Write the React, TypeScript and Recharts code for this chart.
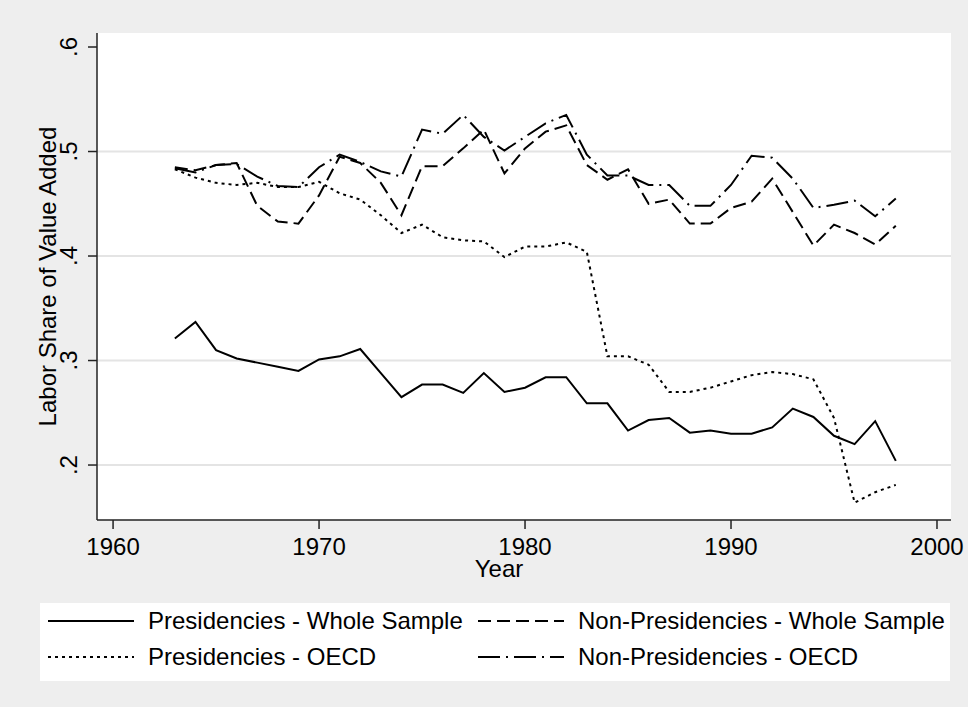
import { LineChart, Line, XAxis, YAxis, CartesianGrid, Legend } from 'recharts'

// Labor share of value added, 1963-1998
const years = [
  1963, 1964, 1965, 1966, 1967, 1968, 1969, 1970, 1971, 1972, 1973, 1974,
  1975, 1976, 1977, 1978, 1979, 1980, 1981, 1982, 1983, 1984, 1985, 1986,
  1987, 1988, 1989, 1990, 1991, 1992, 1993, 1994, 1995, 1996, 1997, 1998,
]

const presWhole = [
  0.321, 0.337, 0.31, 0.302, 0.298, 0.294, 0.29, 0.301, 0.304, 0.311, 0.288, 0.265,
  0.277, 0.277, 0.269, 0.288, 0.27, 0.274, 0.284, 0.284, 0.259, 0.259, 0.233, 0.243,
  0.245, 0.231, 0.233, 0.23, 0.23, 0.236, 0.254, 0.246, 0.228, 0.22, 0.242, 0.204,
]

const nonPresWhole = [
  0.485, 0.482, 0.487, 0.489, 0.448, 0.433, 0.431, 0.458, 0.495, 0.489, 0.47, 0.439,
  0.486, 0.486, 0.503, 0.521, 0.479, 0.503, 0.519, 0.525, 0.487, 0.473, 0.483, 0.45,
  0.454, 0.431, 0.431, 0.446, 0.452, 0.474, 0.442, 0.41, 0.43, 0.422, 0.411, 0.429,
]

const presOecd = [
  0.483, 0.475, 0.47, 0.468, 0.47, 0.466, 0.466, 0.471, 0.46, 0.454, 0.439, 0.422,
  0.43, 0.418, 0.415, 0.414, 0.399, 0.409, 0.409, 0.413, 0.404, 0.304, 0.304, 0.296,
  0.27, 0.27, 0.274, 0.28, 0.286, 0.289, 0.287, 0.282, 0.245, 0.164, 0.174, 0.181,
]

const nonPresOecd = [
  0.484, 0.48, 0.487, 0.488, 0.476, 0.467, 0.466, 0.485, 0.497, 0.49, 0.481, 0.476,
  0.521, 0.517, 0.535, 0.514, 0.501, 0.514, 0.527, 0.535, 0.497, 0.477, 0.477, 0.468,
  0.468, 0.448, 0.448, 0.468, 0.496, 0.494, 0.474, 0.446, 0.449, 0.453, 0.438, 0.455,
]

const xTicks = [1960, 1970, 1980, 1990, 2000]
const yTicks = [0.2, 0.3, 0.4, 0.5, 0.6]
const gridValues = [0.2, 0.3, 0.4, 0.5]

const SERIES = [
  { key: 'presWhole', name: 'Presidencies - Whole Sample', dash: undefined as string | undefined },
  { key: 'nonPresWhole', name: 'Non-Presidencies - Whole Sample', dash: '13 6' },
  { key: 'presOecd', name: 'Presidencies - OECD', dash: '3 4' },
  { key: 'nonPresOecd', name: 'Non-Presidencies - OECD', dash: '22 6 2 6' },
]

const data = years.map((year, i) => ({
  year,
  presWhole: presWhole[i],
  nonPresWhole: nonPresWhole[i],
  presOecd: presOecd[i],
  nonPresOecd: nonPresOecd[i],
}))

const FONT = '"Liberation Sans", Arial, sans-serif'
const INK = '#000'

const fmtY = (v: number) => '.' + Math.round(v * 10)

// y tick labels are rotated like Stata does it
const YTick = (props: any) => {
  const { x, y, payload } = props
  return (
    <text
      x={x}
      y={y}
      dy={-11}
      transform={`rotate(-90 ${x} ${y})`}
      textAnchor="middle"
      fontSize={24}
      fontFamily={FONT}
      fill={INK}
    >
      {fmtY(payload.value)}
    </text>
  )
}

const YTitle = (props: any) => {
  const vb = props.viewBox
  const x = vb.x + 39
  const y = vb.y + vb.height / 2
  return (
    <text
      x={x}
      y={y}
      transform={`rotate(-90 ${x} ${y})`}
      textAnchor="middle"
      fontSize={24}
      fontFamily={FONT}
      fill={INK}
    >
      Labor Share of Value Added
    </text>
  )
}

const XTitle = (props: any) => {
  const vb = props.viewBox
  return (
    <text
      x={vb.x + vb.width / 2 - 25}
      y={vb.y + 57}
      textAnchor="middle"
      fontSize={24}
      fontFamily={FONT}
      fill={INK}
    >
      Year
    </text>
  )
}

const LegendBox = () => {
  const rows = [
    [SERIES[0], SERIES[1]],
    [SERIES[2], SERIES[3]],
  ]
  return (
    <div
      style={{
        background: '#fff',
        width: 910,
        height: 78,
        boxSizing: 'border-box',
        paddingTop: 0,
        fontFamily: FONT,
        fontSize: 24,
        color: INK,
      }}
    >
      {rows.map((row, r) => (
        <div key={r} style={{ display: 'flex', height: 36, alignItems: 'center' }}>
          {row.map((s, c) => (
            <div
              key={s.key}
              style={{
                display: 'flex',
                alignItems: 'center',
                boxSizing: 'border-box',
                flexShrink: 0,
                width: c === 0 ? 438 : 472,
                paddingLeft: c === 0 ? 8 : 0,
                whiteSpace: 'nowrap',
              }}
            >
              <svg width={86} height={10} style={{ marginRight: 14, flexShrink: 0 }}>
                <line x1={0} y1={5} x2={86} y2={5} stroke={INK} strokeWidth={2} strokeDasharray={s.dash} />
              </svg>
              <span>{s.name}</span>
            </div>
          ))}
        </div>
      ))}
    </div>
  )
}

export default function App() {
  return (
    <div
      style={{
        position: 'absolute',
        left: 0,
        top: 0,
        width: 968,
        height: 707,
        background: '#eeeeee',
      }}
    >
      <LineChart
        width={968}
        height={707}
        data={data}
        margin={{ top: 33, right: 17, left: 17, bottom: 137 }}
      >
        <CartesianGrid
          vertical={false}
          horizontalValues={gridValues}
          stroke="#e4e4e4"
          strokeWidth={2}
          fill="#fff"
        />
        <XAxis
          dataKey="year"
          type="number"
          domain={[1959.22, 2000.68]}
          ticks={xTicks}
          allowDataOverflow
          height={50}
          tickSize={9}
          tickMargin={9}
          axisLine={{ stroke: '#222', strokeWidth: 1.5 }}
          tickLine={{ stroke: '#222', strokeWidth: 1.5 }}
          tick={{ fontSize: 24, fontFamily: FONT, fill: INK }}
          label={<XTitle />}
        />
        <YAxis
          type="number"
          domain={[0.1474, 0.6134]}
          ticks={yTicks}
          allowDataOverflow
          width={80}
          tickSize={9}
          tickMargin={0}
          axisLine={{ stroke: '#222', strokeWidth: 1.5 }}
          tickLine={{ stroke: '#222', strokeWidth: 1.5 }}
          tick={<YTick />}
          label={<YTitle />}
        />
        <Legend
          layout="horizontal"
          verticalAlign="middle"
          align="center"
          wrapperStyle={{ left: 40, top: 603, width: 910, height: 78 }}
          content={() => <LegendBox />}
        />
        {SERIES.map((s) => (
          <Line
            key={s.key}
            type="linear"
            dataKey={s.key}
            name={s.name}
            stroke={INK}
            strokeWidth={2}
            strokeDasharray={s.dash}
            dot={false}
            activeDot={false}
            isAnimationActive={false}
          />
        ))}
      </LineChart>
    </div>
  )
}
